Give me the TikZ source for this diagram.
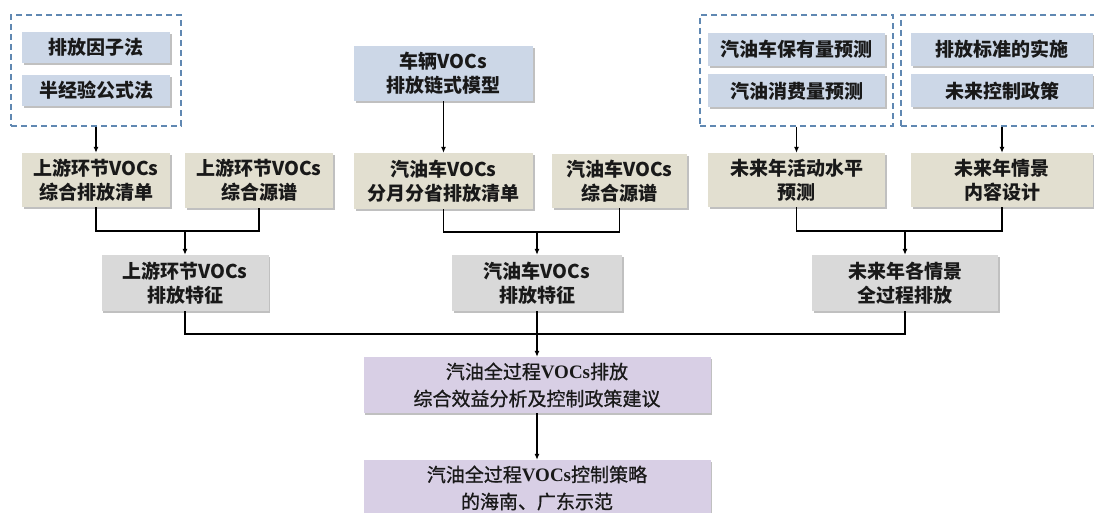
\documentclass[tikz,border=0pt]{standalone}
\usepackage{fontspec}
\usetikzlibrary{arrows.meta,shadows}
\newfontfamily\cjk{Noto Sans CJK SC}
\newfontfamily\cjkm{Noto Sans CJK SC}[FakeBold=0.9]
\newfontfamily\serifb{Liberation Serif}
\definecolor{bluefill}{HTML}{CCD7E7}
\definecolor{beigefill}{HTML}{E2DFD0}
\definecolor{grayfill}{HTML}{D9D9D9}
\definecolor{purplefill}{HTML}{D8CFE5}
\definecolor{dashcol}{HTML}{6088B2}
\tikzset{
  boxbase/.style={rectangle, inner sep=0pt, align=center, text=black!90,
    font=\cjk\bfseries\fontsize{19}{24}\selectfont,
    drop shadow={shadow xshift=1.5pt, shadow yshift=-2pt, opacity=0.35, fill=black!70}},
  bluebox/.style={boxbase, fill=bluefill},
  beigebox/.style={boxbase, fill=beigefill},
  graybox/.style={boxbase, fill=grayfill},
  purplebox/.style={boxbase, fill=purplefill, font=\cjkm\fontsize{19}{27}\selectfont},
  dashbox/.style={rectangle, draw=dashcol, line width=1.5pt, dash pattern=on 6pt off 4pt, inner sep=0pt},
  conn/.style={draw=black, line width=1.1pt},
  arr/.style={conn, -{Latex[length=6pt,width=5pt]}}
}
\begin{document}
\begin{tikzpicture}[x=1pt,y=-1pt]
\clip (0,0) rectangle (1094,513);
\useasboundingbox (0,0) rectangle (1094,513);
\fill[white] (0,0) rectangle (1094,513);

% dashed groups
\node[dashbox, minimum width=170, minimum height=111] (d1) at (96,70.5) {};
\node[dashbox, minimum width=193, minimum height=111] (d2) at (796.5,70.5) {};
\node[dashbox, minimum width=202, minimum height=111] (d3) at (1002,70.5) {};

% blue method boxes
\node[bluebox, minimum width=148, minimum height=31] (a1) at (96,47.5) {排放因子法};
\node[bluebox, minimum width=148, minimum height=31] (a2) at (96,90.5) {半经验公式法};
\node[bluebox, minimum width=179, minimum height=55] (m0) at (443.5,73.5) {车辆VOCs\\排放链式模型};
\node[bluebox, minimum width=177, minimum height=33] (b1) at (796.5,49.5) {汽油车保有量预测};
\node[bluebox, minimum width=177, minimum height=33] (b2) at (796.5,91) {汽油消费量预测};
\node[bluebox, minimum width=182, minimum height=33] (c1) at (1002,49.5) {排放标准的实施};
\node[bluebox, minimum width=182, minimum height=33] (c2) at (1002,91) {未来控制政策};

% beige boxes
\node[beigebox, minimum width=148, minimum height=54] (u1) at (96,180) {上游环节VOCs\\综合排放清单};
\node[beigebox, minimum width=148, minimum height=54] (u2) at (259,180.5) {上游环节VOCs\\综合源谱};
\node[beigebox, minimum width=179, minimum height=56] (m1) at (443.5,181) {汽油车VOCs\\分月分省排放清单};
\node[beigebox, minimum width=135, minimum height=54] (m2) at (619.5,181) {汽油车VOCs\\综合源谱};
\node[beigebox, minimum width=177, minimum height=54] (r1) at (796.5,180) {未来年活动水平\\预测};
\node[beigebox, minimum width=182, minimum height=54] (r2) at (1002,180) {未来年情景\\内容设计};

% gray boxes
\node[graybox, minimum width=167, minimum height=56] (g1) at (185,283) {上游环节VOCs\\排放特征};
\node[graybox, minimum width=170, minimum height=56] (g2) at (537,283) {汽油车VOCs\\排放特征};
\node[graybox, minimum width=186, minimum height=56] (g3) at (905,283) {未来年各情景\\全过程排放};

% purple boxes
\node[purplebox, minimum width=347, minimum height=56] (p1) at (537,385) {汽油全过程{\serifb\bfseries VOCs}排放\\综合效益分析及控制政策建议};
\node[purplebox, minimum width=347, minimum height=56] (p2) at (537,488) {汽油全过程{\serifb\bfseries VOCs}控制策略\\的海南、广东示范};

% junctions
\coordinate (j1) at (185,231);
\coordinate (j2) at (537,232);
\coordinate (j3) at (905,231);
\coordinate (j4) at (537,334);

% connectors
\draw[arr] (d1.south) -- (u1.north);
\draw[arr] (m0.south) -- (m1.north);
\draw[arr] (d2.south) -- (r1.north);
\draw[arr] (d3.south) -- (r2.north);

\draw[conn] (u1.south) |- (j1) -| (u2.south);
\draw[arr] (j1) -- (g1.north);
\draw[conn] (m1.south) |- (j2) -| (m2.south);
\draw[arr] (j2) -- (g2.north);
\draw[conn] (r1.south) |- (j3) -| (r2.south);
\draw[arr] (j3) -- (g3.north);

\draw[conn] (g1.south) |- (j4) -| (g3.south);
\draw[conn] (g2.south) -- (j4);
\draw[arr] (j4) -- (p1.north);
\draw[arr] (p1.south) -- (p2.north);
\end{tikzpicture}
\end{document}
